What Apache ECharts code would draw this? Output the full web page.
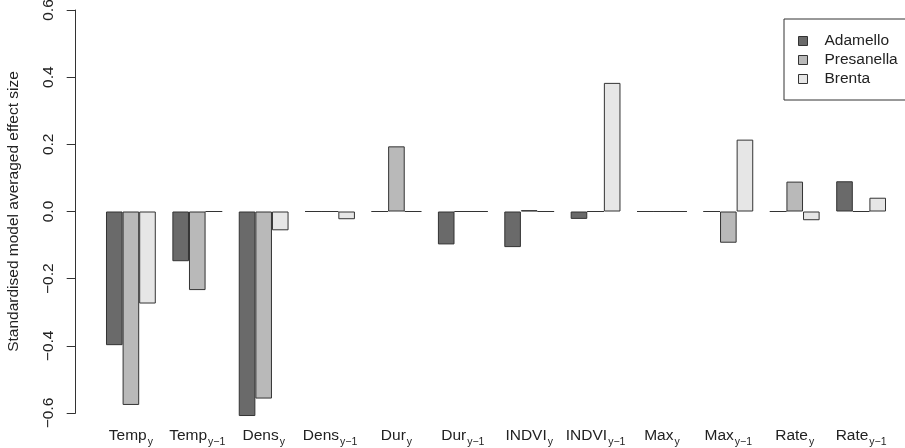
<!DOCTYPE html>
<html>
<head>
<meta charset="utf-8">
<script src="https://cdn.jsdelivr.net/npm/echarts@6/dist/echarts.min.js"></script>
<style>
  html, body { margin: 0; padding: 0; background: #fff; }
  #chart { width: 905px; height: 448px; }
</style>
</head>
<body>
<div id="chart"></div>
<script>
// Predictor names and their time subscripts
const catBase = ['Temp', 'Temp', 'Dens', 'Dens', 'Dur', 'Dur', 'INDVI', 'INDVI', 'Max', 'Max', 'Rate', 'Rate'];
const catSub  = ['y', 'y\u22121', 'y', 'y\u22121', 'y', 'y\u22121', 'y', 'y\u22121', 'y', 'y\u22121', 'y', 'y\u22121'];
const categories = catBase.map((b, i) => b + '_' + catSub[i]);

// Standardised model-averaged effect sizes per massif
const adamello   = [-0.398, -0.148, -0.609, 0, 0, -0.098, -0.106, -0.022, 0, 0, 0, 0.090];
const presanella = [-0.576, -0.234, -0.557, 0, 0.194, 0, 0.004, 0, 0, -0.093, 0.089, 0];
const brenta     = [-0.274, 0, -0.056, -0.023, 0, 0, 0, 0.383, 0, 0.214, -0.026, 0.041];

const yTicks = [-0.6, -0.4, -0.2, 0.0, 0.2, 0.4, 0.6];

const FONT = '"Liberation Sans", Arial, Helvetica, sans-serif';
const INK = '#222';

const chart = echarts.init(document.getElementById('chart'), null, { renderer: 'canvas' });

function barSeries(name, data, color) {
  return {
    name: name,
    type: 'bar',
    data: data,
    barGap: '0%',
    barCategoryGap: '25%',
    clip: false,
    itemStyle: { color: color, borderColor: '#333', borderWidth: 1 },
    emphasis: { disabled: true }
  };
}

chart.setOption({
  animation: false,
  backgroundColor: '#fff',
  textStyle: { fontFamily: FONT },
  grid: { left: 97.7, right: 10.7, top: 10, bottom: 35, containLabel: false, outerBoundsMode: 'none' },
  legend: {
    orient: 'vertical',
    left: 784,
    top: 19,
    padding: [14, 12, 13, 14],
    itemGap: 3,
    itemWidth: 9,
    itemHeight: 9,
    borderColor: '#333',
    borderWidth: 1,
    borderRadius: 0,
    icon: 'rect',
    itemStyle: { borderColor: '#333', borderWidth: 1 },
    textStyle: { fontSize: 15.5, color: INK, fontFamily: FONT, padding: [0, 0, 0, 12] },
    data: ['Adamello', 'Presanella', 'Brenta']
  },
  xAxis: {
    type: 'category',
    data: categories,
    axisLine: { show: false, onZero: false },
    axisTick: { show: false },
    splitLine: { show: false },
    axisLabel: {
      interval: 0,
      margin: 13,
      color: INK,
      fontSize: 15.5,
      fontFamily: FONT,
      formatter: function (v, i) {
        return '{b|' + catBase[i] + '}{s|' + catSub[i] + '}';
      },
      rich: {
        b: { fontSize: 15.5, color: INK, fontFamily: FONT, verticalAlign: 'bottom', lineHeight: 18 },
        s: { fontSize: 10.5, color: INK, fontFamily: FONT, verticalAlign: 'bottom', lineHeight: 18, padding: [0, 0, -4, 1] }
      }
    }
  },
  yAxis: {
    type: 'value',
    min: yTicks[0],
    max: yTicks[yTicks.length - 1],
    interval: 0.2,
    offset: 22,
    name: 'Standardised model averaged effect size',
    nameLocation: 'middle',
    nameGap: 54,
    nameTextStyle: { fontSize: 15.5, color: INK, fontFamily: FONT },
    axisLine: { show: true, lineStyle: { color: '#333', width: 1 } },
    axisTick: { show: true, length: 9, lineStyle: { color: '#333', width: 1 } },
    splitLine: { show: false },
    axisLabel: {
      rotate: 90,
      margin: 19,
      color: INK,
      fontSize: 15.5,
      fontFamily: FONT,
      formatter: function (v) {
        return v.toFixed(1).replace('-', '\u2212');
      }
    }
  },
  series: [
    barSeries('Adamello', adamello, '#6a6a6a'),
    barSeries('Presanella', presanella, '#b9b9b9'),
    barSeries('Brenta', brenta, '#e6e6e6')
  ]
});
</script>
</body>
</html>
